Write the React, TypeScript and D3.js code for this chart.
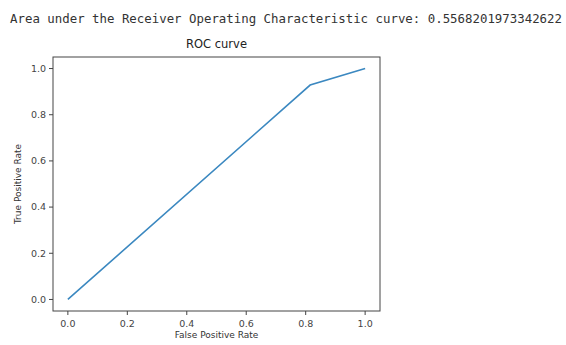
import React, { useEffect, useRef } from "react";
import * as d3 from "d3";

const fpr = [0, 0.815, 1];
const tpr = [0, 0.9286, 1];
const ticks = [0, 0.2, 0.4, 0.6, 0.8, 1.0];
const aucText = "Area under the Receiver Operating Characteristic curve: 0.5568201973342622";

function draw(ref: SVGSVGElement | null) {
	if (!ref) return;
	const width = 566,
		height = 345;
	const box = { left: 53, right: 380, top: 57, bottom: 311 };
	const svg = d3.select(ref).attr("width", width).attr("height", height);
	svg.selectAll("*").remove();
	svg.append("rect").attr("width", width).attr("height", height).attr("fill", "white");

	// notebook output line
	svg.append("text")
		.attr("x", 10)
		.attr("y", 23)
		.attr("font-family", "DejaVu Sans Mono")
		.attr("font-size", 12)
		.attr("fill", "#333")
		.attr("textLength", 552)
		.attr("lengthAdjust", "spacingAndGlyphs")
		.text(aucText);

	const x = d3.scaleLinear().domain([-0.05, 1.05]).range([box.left, box.right]);
	const y = d3.scaleLinear().domain([-0.05, 1.05]).range([box.bottom, box.top]);

	const font = "DejaVu Sans";
	const g = svg.append("g").attr("font-family", font);

	const line = d3
		.line<number>()
		.x((_, i) => x(fpr[i]))
		.y((d) => y(d));
	g.append("path")
		.attr("d", line(tpr))
		.attr("fill", "none")
		.attr("stroke", "#3b88c0")
		.attr("stroke-width", 1.6);

	g.append("rect")
		.attr("x", box.left)
		.attr("y", box.top)
		.attr("width", box.right - box.left)
		.attr("height", box.bottom - box.top)
		.attr("fill", "none")
		.attr("stroke", "#444")
		.attr("stroke-width", 1);

	// x ticks
	const xt = g.append("g").selectAll("g").data(ticks).join("g").attr("transform", (d) => `translate(${x(d)},${box.bottom})`);
	xt.append("line").attr("y2", 4).attr("stroke", "#444");
	xt.append("text")
		.attr("y", 16)
		.attr("text-anchor", "middle")
		.attr("font-size", 9.5)
		.attr("fill", "#444")
		.text((d) => d.toFixed(1));

	// y ticks
	const yt = g.append("g").selectAll("g").data(ticks).join("g").attr("transform", (d) => `translate(${box.left},${y(d)})`);
	yt.append("line").attr("x2", -4).attr("stroke", "#444");
	yt.append("text")
		.attr("x", -7)
		.attr("dy", "0.35em")
		.attr("text-anchor", "end")
		.attr("font-size", 9.5)
		.attr("fill", "#444")
		.text((d) => d.toFixed(1));

	g.append("text")
		.attr("x", (box.left + box.right) / 2)
		.attr("y", 338)
		.attr("text-anchor", "middle")
		.attr("font-size", 9)
		.attr("fill", "#333")
		.text("False Positive Rate");

	g.append("text")
		.attr("transform", `translate(21,${(box.top + box.bottom) / 2}) rotate(-90)`)
		.attr("text-anchor", "middle")
		.attr("font-size", 9)
		.attr("fill", "#333")
		.text("True Positive Rate");

	g.append("text")
		.attr("x", (box.left + box.right) / 2)
		.attr("y", 48)
		.attr("text-anchor", "middle")
		.attr("font-size", 11.5)
		.attr("fill", "#222")
		.text("ROC curve");
}

export default function App() {
	const ref = useRef<SVGSVGElement>(null);
	useEffect(() => {
		draw(ref.current);
	}, []);
	return <svg ref={ref} style={{ position: "absolute", left: 0, top: 0 }} />;
}
